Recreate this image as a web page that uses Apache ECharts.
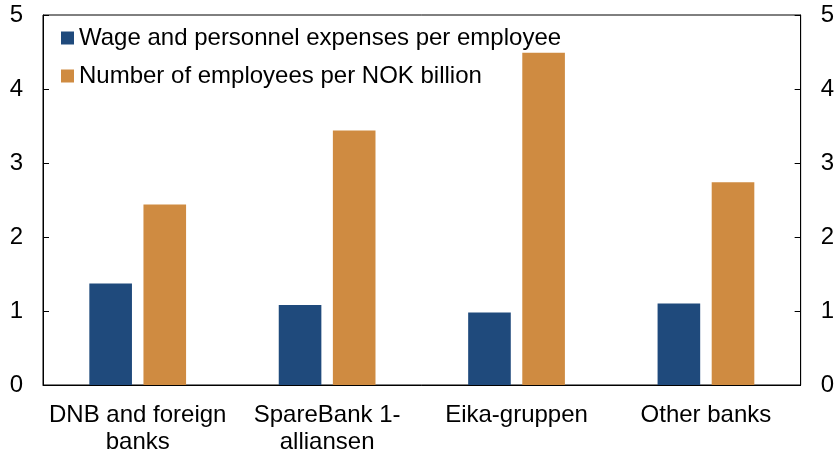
<!DOCTYPE html>
<html><head><meta charset="utf-8">
<script src="https://cdn.jsdelivr.net/npm/echarts@6/dist/echarts.min.js"></script>
<style>html,body{margin:0;padding:0;background:#fff}#c{width:837px;height:456px}</style>
</head><body><div id="c"></div>
<script>
const categories = ["DNB and foreign\nbanks", "SpareBank 1-\nalliansen", "Eika-gruppen", "Other banks"];
const wageSeries = [1.37, 1.08, 0.98, 1.10];
const employeesSeries = [2.44, 3.44, 4.49, 2.74];
const seriesNames = ["Wage and personnel expenses per employee", "Number of employees per NOK billion"];
const yTicks = {min: 0, max: 5, interval: 1};

const font = "'Liberation Sans', Arial, sans-serif";
const chart = echarts.init(document.getElementById('c'));
const yAxisBase = {
  type: 'value', min: yTicks.min, max: yTicks.max, interval: yTicks.interval,
  axisLine: {show: true, lineStyle: {color: '#000', width: 1}},
  axisTick: {show: true, inside: true, length: 6, lineStyle: {color: '#000'}},
  axisLabel: {fontFamily: font, fontSize: 24, color: '#000', margin: 20},
  splitLine: {show: false}
};
chart.setOption({
  animation: false,
  grid: {left: 43, right: 36, top: 15, bottom: 70, show: true, borderColor: '#000', borderWidth: 1, backgroundColor: 'transparent'},
  legend: {
    orient: 'vertical', left: 56, top: 21, itemWidth: 13, itemHeight: 13, itemGap: 14,
    icon: 'rect',
    textStyle: {fontFamily: font, fontSize: 24, color: '#000'},
    data: seriesNames
  },
  xAxis: {
    type: 'category', data: categories,
    axisLine: {show: true, lineStyle: {color: '#000', width: 1}},
    axisTick: {show: false},
    axisLabel: {fontFamily: font, fontSize: 24, color: '#000', margin: 17, lineHeight: 27, interval: 0}
  },
  yAxis: [
    Object.assign({position: 'left'}, yAxisBase),
    Object.assign({position: 'right'}, yAxisBase)
  ],
  series: [
    {name: seriesNames[0], type: 'bar', data: wageSeries, barWidth: '22.5%', barGap: '27%', itemStyle: {color: '#1F4A7C'}},
    {name: seriesNames[1], type: 'bar', data: employeesSeries, barWidth: '22.5%', barGap: '27%', itemStyle: {color: '#CF8B41'}}
  ]
});
</script></body></html>
